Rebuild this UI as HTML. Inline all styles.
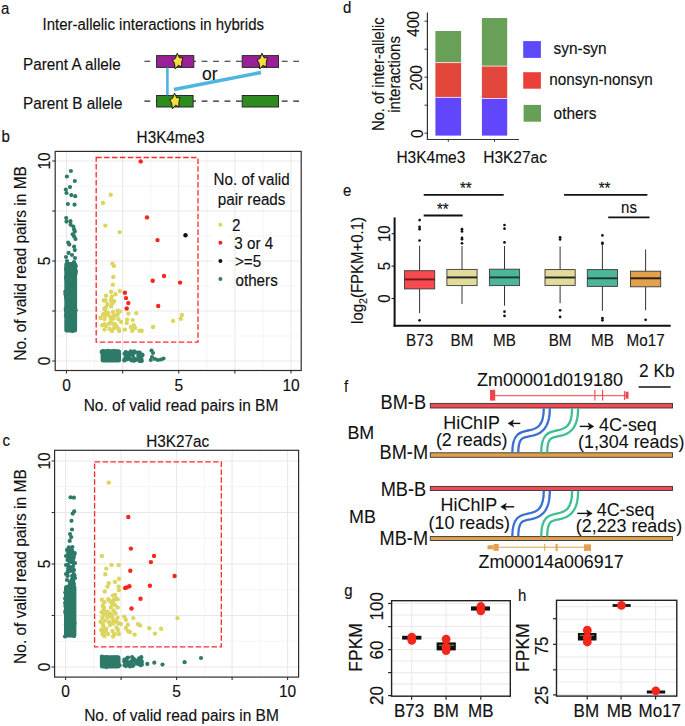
<!DOCTYPE html>
<html><head><meta charset="utf-8"><style>
html,body{margin:0;padding:0;background:#fff;overflow:hidden;}
svg{display:block;}
svg text{font-family:"Liberation Sans",sans-serif;}
</style></head><body>
<svg width="685" height="726" viewBox="0 0 685 726">
<rect x="0" y="0" width="685" height="726" fill="#fff"/>
<text transform="translate(1 13.5) scale(1 1.07)" font-size="15" text-anchor="start" fill="#111" stroke="#111" stroke-width="0.15" >a</text>
<text transform="translate(42.5 30.4) scale(1 1.07)" font-size="15" text-anchor="start" fill="#111" stroke="#111" stroke-width="0.15" >Inter-allelic interactions in hybrids</text>
<text transform="translate(23 69.9) scale(1 1.07)" font-size="15.3" text-anchor="start" fill="#111" stroke="#111" stroke-width="0.15" >Parent A allele</text>
<text transform="translate(23 108.9) scale(1 1.07)" font-size="15.3" text-anchor="start" fill="#111" stroke="#111" stroke-width="0.15" >Parent B allele</text>
<line x1="144.4" y1="61.3" x2="299.2" y2="61.3" stroke="#222" stroke-width="1.1" stroke-dasharray="5.8 5.65"/>
<line x1="144.4" y1="101.1" x2="299.2" y2="101.1" stroke="#222" stroke-width="1.1" stroke-dasharray="5.8 5.65"/>
<rect x="156.60" y="55.60" width="37.20" height="11.80" fill="#9b1f98" stroke="#2a2a2a" stroke-width="1" />
<rect x="242.20" y="55.60" width="36.30" height="11.80" fill="#9b1f98" stroke="#2a2a2a" stroke-width="1" />
<rect x="156.60" y="95.50" width="36.50" height="11.50" fill="#2f8a1f" stroke="#2a2a2a" stroke-width="1" />
<rect x="242.20" y="95.50" width="36.30" height="11.50" fill="#2f8a1f" stroke="#2a2a2a" stroke-width="1" />
<line x1="167.4" y1="67.6" x2="167.4" y2="95.3" stroke="#4db6e0" stroke-width="2.6" />
<line x1="174" y1="89.5" x2="261" y2="72.5" stroke="#4db6e0" stroke-width="3.6" />
<text transform="translate(202 79.5) scale(1 1.0)" font-size="17.5" text-anchor="start" fill="#111" stroke="#111" stroke-width="0.15" >or</text>
<polygon points="177.25,53.19 179.51,57.85 182.87,57.67 181.74,62.06 181.68,67.07 178.38,65.27 175.20,69.01 174.44,63.20 172.45,59.89 175.42,58.39" fill="#f3e03c" stroke="#1a1a1a" stroke-width="1" stroke-linejoin="miter"/>
<polygon points="261.85,53.19 264.11,57.85 267.47,57.67 266.34,62.06 266.28,67.07 262.98,65.27 259.80,69.01 259.04,63.20 257.05,59.89 260.02,58.39" fill="#f3e03c" stroke="#1a1a1a" stroke-width="1" stroke-linejoin="miter"/>
<polygon points="174.45,93.09 176.71,97.75 180.07,97.57 178.94,101.96 178.88,106.97 175.58,105.17 172.40,108.91 171.64,103.10 169.65,99.79 172.62,98.29" fill="#f3e03c" stroke="#1a1a1a" stroke-width="1" stroke-linejoin="miter"/>
<text transform="translate(1.5 142.1) scale(1 1.07)" font-size="15" text-anchor="start" fill="#111" stroke="#111" stroke-width="0.15" >b</text>
<line x1="66.5" y1="151.4" x2="66.5" y2="370.5" stroke="#e9e9e9" stroke-width="1.1" />
<line x1="55.2" y1="361.0" x2="301.2" y2="361.0" stroke="#e9e9e9" stroke-width="1.1" />
<line x1="94.5625" y1="151.4" x2="94.5625" y2="370.5" stroke="#efefef" stroke-width="0.6" />
<line x1="55.2" y1="336.0" x2="301.2" y2="336.0" stroke="#efefef" stroke-width="0.6" />
<line x1="122.625" y1="151.4" x2="122.625" y2="370.5" stroke="#e9e9e9" stroke-width="1.1" />
<line x1="55.2" y1="311.0" x2="301.2" y2="311.0" stroke="#e9e9e9" stroke-width="1.1" />
<line x1="150.6875" y1="151.4" x2="150.6875" y2="370.5" stroke="#efefef" stroke-width="0.6" />
<line x1="55.2" y1="286.0" x2="301.2" y2="286.0" stroke="#efefef" stroke-width="0.6" />
<line x1="178.75" y1="151.4" x2="178.75" y2="370.5" stroke="#e9e9e9" stroke-width="1.1" />
<line x1="55.2" y1="261.0" x2="301.2" y2="261.0" stroke="#e9e9e9" stroke-width="1.1" />
<line x1="206.8125" y1="151.4" x2="206.8125" y2="370.5" stroke="#efefef" stroke-width="0.6" />
<line x1="55.2" y1="236.0" x2="301.2" y2="236.0" stroke="#efefef" stroke-width="0.6" />
<line x1="234.875" y1="151.4" x2="234.875" y2="370.5" stroke="#e9e9e9" stroke-width="1.1" />
<line x1="55.2" y1="211.0" x2="301.2" y2="211.0" stroke="#e9e9e9" stroke-width="1.1" />
<line x1="262.9375" y1="151.4" x2="262.9375" y2="370.5" stroke="#efefef" stroke-width="0.6" />
<line x1="55.2" y1="186.0" x2="301.2" y2="186.0" stroke="#efefef" stroke-width="0.6" />
<line x1="291.0" y1="151.4" x2="291.0" y2="370.5" stroke="#e9e9e9" stroke-width="1.1" />
<line x1="55.2" y1="161.0" x2="301.2" y2="161.0" stroke="#e9e9e9" stroke-width="1.1" />
<rect x="55.20" y="151.40" width="246.00" height="219.10" fill="none" stroke="#2e2e2e" stroke-width="1.2" />
<line x1="66.5" y1="370.5" x2="66.5" y2="373.5" stroke="#333" stroke-width="1.1" />
<line x1="52.2" y1="361.0" x2="55.2" y2="361.0" stroke="#333" stroke-width="1.1" />
<line x1="122.625" y1="370.5" x2="122.625" y2="373.5" stroke="#333" stroke-width="1.1" />
<line x1="52.2" y1="311.0" x2="55.2" y2="311.0" stroke="#333" stroke-width="1.1" />
<line x1="178.75" y1="370.5" x2="178.75" y2="373.5" stroke="#333" stroke-width="1.1" />
<line x1="52.2" y1="261.0" x2="55.2" y2="261.0" stroke="#333" stroke-width="1.1" />
<line x1="234.875" y1="370.5" x2="234.875" y2="373.5" stroke="#333" stroke-width="1.1" />
<line x1="52.2" y1="211.0" x2="55.2" y2="211.0" stroke="#333" stroke-width="1.1" />
<line x1="291.0" y1="370.5" x2="291.0" y2="373.5" stroke="#333" stroke-width="1.1" />
<line x1="52.2" y1="161.0" x2="55.2" y2="161.0" stroke="#333" stroke-width="1.1" />
<text transform="translate(66.5 391) scale(1 1.07)" font-size="15.5" text-anchor="middle" fill="#111" stroke="#111" stroke-width="0.15" >0</text>
<text transform="translate(50.3 361) rotate(-90) scale(1 1.07)" font-size="15.5" text-anchor="middle" fill="#111" stroke="#111" stroke-width="0.15">0</text>
<text transform="translate(178.75 391) scale(1 1.07)" font-size="15.5" text-anchor="middle" fill="#111" stroke="#111" stroke-width="0.15" >5</text>
<text transform="translate(50.3 261) rotate(-90) scale(1 1.07)" font-size="15.5" text-anchor="middle" fill="#111" stroke="#111" stroke-width="0.15">5</text>
<text transform="translate(291.0 391) scale(1 1.07)" font-size="15.5" text-anchor="middle" fill="#111" stroke="#111" stroke-width="0.15" >10</text>
<text transform="translate(50.3 161) rotate(-90) scale(1 1.07)" font-size="15.5" text-anchor="middle" fill="#111" stroke="#111" stroke-width="0.15">10</text>
<text transform="translate(136.6 143.2) scale(1 1.07)" font-size="15.3" text-anchor="start" fill="#111" stroke="#111" stroke-width="0.15" >H3K4me3</text>
<text transform="translate(181 410.5) scale(1 1.07)" font-size="15.5" text-anchor="middle" fill="#111" stroke="#111" stroke-width="0.15" >No. of valid read pairs in BM</text>
<text transform="translate(26.3 263.4) rotate(-90) scale(1 1.07)" font-size="15.5" text-anchor="middle" fill="#111" stroke="#111" stroke-width="0.15">No. of valid read pairs in MB</text>
<circle cx="70.9" cy="171.0" r="2.1" fill="#2e7a68"/>
<circle cx="66.9" cy="176.5" r="2.1" fill="#2e7a68"/>
<circle cx="74.8" cy="181.0" r="2.1" fill="#2e7a68"/>
<circle cx="70.0" cy="187.1" r="2.1" fill="#2e7a68"/>
<circle cx="65.8" cy="189.6" r="2.1" fill="#2e7a68"/>
<circle cx="66.5" cy="193.0" r="2.1" fill="#2e7a68"/>
<circle cx="71.3" cy="195.1" r="2.1" fill="#2e7a68"/>
<circle cx="75.2" cy="196.2" r="2.1" fill="#2e7a68"/>
<circle cx="67.9" cy="204.0" r="2.1" fill="#2e7a68"/>
<circle cx="74.5" cy="204.7" r="2.1" fill="#2e7a68"/>
<circle cx="66.2" cy="218.0" r="2.1" fill="#2e7a68"/>
<circle cx="66.5" cy="221.6" r="2.1" fill="#2e7a68"/>
<circle cx="70.4" cy="221.2" r="2.1" fill="#2e7a68"/>
<circle cx="70.6" cy="224.7" r="2.1" fill="#2e7a68"/>
<circle cx="73.4" cy="226.7" r="2.1" fill="#2e7a68"/>
<circle cx="74.1" cy="229.5" r="2.1" fill="#2e7a68"/>
<circle cx="74.8" cy="231.6" r="2.1" fill="#2e7a68"/>
<circle cx="72.7" cy="234.3" r="2.1" fill="#2e7a68"/>
<circle cx="74.1" cy="236.4" r="2.1" fill="#2e7a68"/>
<circle cx="75.5" cy="239.1" r="2.1" fill="#2e7a68"/>
<circle cx="68.2" cy="242.6" r="2.1" fill="#2e7a68"/>
<circle cx="69.3" cy="244.6" r="2.1" fill="#2e7a68"/>
<circle cx="74.1" cy="246.7" r="2.1" fill="#2e7a68"/>
<circle cx="74.8" cy="250.1" r="2.1" fill="#2e7a68"/>
<circle cx="68.6" cy="252.9" r="2.1" fill="#2e7a68"/>
<circle cx="72.0" cy="255.0" r="2.1" fill="#2e7a68"/>
<circle cx="66.0" cy="257.0" r="2.1" fill="#2e7a68"/>
<circle cx="75.0" cy="258.0" r="2.1" fill="#2e7a68"/>
<circle cx="67.0" cy="261.0" r="2.1" fill="#2e7a68"/>
<circle cx="74.0" cy="262.0" r="2.1" fill="#2e7a68"/>
<rect x="64.30" y="262.00" width="12.80" height="70.50" fill="#2e7a68" stroke="none" stroke-width="0" rx="2.5"/>
<circle cx="68.8" cy="273.3" r="2.1" fill="#2e7a68"/>
<circle cx="72.3" cy="268.0" r="2.1" fill="#2e7a68"/>
<circle cx="71.1" cy="288.0" r="2.1" fill="#2e7a68"/>
<circle cx="65.9" cy="297.8" r="2.1" fill="#2e7a68"/>
<circle cx="65.7" cy="292.7" r="2.1" fill="#2e7a68"/>
<circle cx="66.1" cy="269.2" r="2.1" fill="#2e7a68"/>
<circle cx="69.9" cy="319.6" r="2.1" fill="#2e7a68"/>
<circle cx="66.6" cy="278.3" r="2.1" fill="#2e7a68"/>
<circle cx="72.1" cy="327.9" r="2.1" fill="#2e7a68"/>
<circle cx="71.5" cy="290.2" r="2.1" fill="#2e7a68"/>
<circle cx="75.8" cy="266.2" r="2.1" fill="#2e7a68"/>
<circle cx="74.6" cy="282.8" r="2.1" fill="#2e7a68"/>
<circle cx="66.9" cy="271.1" r="2.1" fill="#2e7a68"/>
<circle cx="68.6" cy="318.9" r="2.1" fill="#2e7a68"/>
<circle cx="67.3" cy="302.8" r="2.1" fill="#2e7a68"/>
<circle cx="72.2" cy="288.5" r="2.1" fill="#2e7a68"/>
<circle cx="71.2" cy="267.3" r="2.1" fill="#2e7a68"/>
<circle cx="65.9" cy="277.1" r="2.1" fill="#2e7a68"/>
<circle cx="72.6" cy="292.3" r="2.1" fill="#2e7a68"/>
<circle cx="68.7" cy="303.1" r="2.1" fill="#2e7a68"/>
<circle cx="70.2" cy="283.5" r="2.1" fill="#2e7a68"/>
<circle cx="73.9" cy="310.9" r="2.1" fill="#2e7a68"/>
<circle cx="67.9" cy="302.3" r="2.1" fill="#2e7a68"/>
<circle cx="71.0" cy="322.9" r="2.1" fill="#2e7a68"/>
<circle cx="73.2" cy="282.7" r="2.1" fill="#2e7a68"/>
<circle cx="75.9" cy="271.1" r="2.1" fill="#2e7a68"/>
<circle cx="69.8" cy="314.9" r="2.1" fill="#2e7a68"/>
<circle cx="66.9" cy="296.5" r="2.1" fill="#2e7a68"/>
<circle cx="65.7" cy="308.8" r="2.1" fill="#2e7a68"/>
<circle cx="73.6" cy="302.3" r="2.1" fill="#2e7a68"/>
<circle cx="74.8" cy="284.5" r="2.1" fill="#2e7a68"/>
<circle cx="72.8" cy="303.7" r="2.1" fill="#2e7a68"/>
<circle cx="71.6" cy="294.3" r="2.1" fill="#2e7a68"/>
<circle cx="74.4" cy="327.7" r="2.1" fill="#2e7a68"/>
<circle cx="70.4" cy="308.5" r="2.1" fill="#2e7a68"/>
<circle cx="66.0" cy="311.1" r="2.1" fill="#2e7a68"/>
<circle cx="72.3" cy="331.0" r="2.1" fill="#2e7a68"/>
<circle cx="74.2" cy="282.5" r="2.1" fill="#2e7a68"/>
<circle cx="69.5" cy="308.8" r="2.1" fill="#2e7a68"/>
<circle cx="65.5" cy="294.6" r="2.1" fill="#2e7a68"/>
<circle cx="67.1" cy="271.0" r="2.1" fill="#2e7a68"/>
<circle cx="65.9" cy="315.6" r="2.1" fill="#2e7a68"/>
<circle cx="66.7" cy="280.0" r="2.1" fill="#2e7a68"/>
<circle cx="69.5" cy="322.7" r="2.1" fill="#2e7a68"/>
<circle cx="66.2" cy="293.8" r="2.1" fill="#2e7a68"/>
<circle cx="71.2" cy="323.5" r="2.1" fill="#2e7a68"/>
<circle cx="74.1" cy="322.2" r="2.1" fill="#2e7a68"/>
<circle cx="68.3" cy="291.4" r="2.1" fill="#2e7a68"/>
<circle cx="69.2" cy="323.6" r="2.1" fill="#2e7a68"/>
<circle cx="75.6" cy="273.3" r="2.1" fill="#2e7a68"/>
<circle cx="67.2" cy="278.9" r="2.1" fill="#2e7a68"/>
<circle cx="67.8" cy="296.2" r="2.1" fill="#2e7a68"/>
<circle cx="71.7" cy="281.0" r="2.1" fill="#2e7a68"/>
<circle cx="65.3" cy="291.7" r="2.1" fill="#2e7a68"/>
<circle cx="69.3" cy="301.8" r="2.1" fill="#2e7a68"/>
<circle cx="75.6" cy="310.3" r="2.1" fill="#2e7a68"/>
<rect x="100.60" y="349.20" width="20.50" height="13.30" fill="#2e7a68" stroke="none" stroke-width="0" rx="2.5"/>
<circle cx="111.1" cy="357.2" r="2.1" fill="#2e7a68"/>
<circle cx="114.1" cy="350.8" r="2.1" fill="#2e7a68"/>
<circle cx="118.2" cy="359.0" r="2.1" fill="#2e7a68"/>
<circle cx="117.8" cy="359.2" r="2.1" fill="#2e7a68"/>
<circle cx="108.9" cy="354.7" r="2.1" fill="#2e7a68"/>
<circle cx="103.5" cy="357.4" r="2.1" fill="#2e7a68"/>
<circle cx="102.8" cy="351.0" r="2.1" fill="#2e7a68"/>
<circle cx="105.5" cy="352.0" r="2.1" fill="#2e7a68"/>
<circle cx="107.9" cy="350.8" r="2.1" fill="#2e7a68"/>
<circle cx="101.6" cy="351.9" r="2.1" fill="#2e7a68"/>
<circle cx="125.9" cy="354.6" r="2.1" fill="#2e7a68"/>
<circle cx="124.5" cy="359.7" r="2.1" fill="#2e7a68"/>
<circle cx="135.7" cy="352.5" r="2.1" fill="#2e7a68"/>
<circle cx="128.8" cy="354.5" r="2.1" fill="#2e7a68"/>
<circle cx="130.9" cy="352.2" r="2.1" fill="#2e7a68"/>
<circle cx="140.1" cy="360.9" r="2.1" fill="#2e7a68"/>
<circle cx="132.9" cy="355.8" r="2.1" fill="#2e7a68"/>
<circle cx="125.6" cy="352.0" r="2.1" fill="#2e7a68"/>
<circle cx="130.5" cy="353.6" r="2.1" fill="#2e7a68"/>
<circle cx="139.7" cy="352.6" r="2.1" fill="#2e7a68"/>
<circle cx="124.4" cy="360.5" r="2.1" fill="#2e7a68"/>
<circle cx="134.0" cy="352.5" r="2.1" fill="#2e7a68"/>
<circle cx="134.3" cy="351.3" r="2.1" fill="#2e7a68"/>
<circle cx="134.0" cy="360.8" r="2.1" fill="#2e7a68"/>
<circle cx="140.4" cy="358.0" r="2.1" fill="#2e7a68"/>
<circle cx="129.0" cy="354.7" r="2.1" fill="#2e7a68"/>
<circle cx="127.2" cy="358.7" r="2.1" fill="#2e7a68"/>
<circle cx="134.1" cy="358.8" r="2.1" fill="#2e7a68"/>
<circle cx="130.3" cy="353.2" r="2.1" fill="#2e7a68"/>
<circle cx="139.4" cy="360.8" r="2.1" fill="#2e7a68"/>
<circle cx="140.2" cy="359.1" r="2.1" fill="#2e7a68"/>
<circle cx="139.5" cy="358.4" r="2.1" fill="#2e7a68"/>
<circle cx="128.3" cy="356.2" r="2.1" fill="#2e7a68"/>
<circle cx="130.8" cy="351.3" r="2.1" fill="#2e7a68"/>
<circle cx="124.5" cy="353.8" r="2.1" fill="#2e7a68"/>
<circle cx="128.9" cy="357.9" r="2.1" fill="#2e7a68"/>
<circle cx="142.2" cy="355.5" r="2.1" fill="#2e7a68"/>
<circle cx="141.8" cy="360.9" r="2.1" fill="#2e7a68"/>
<circle cx="142.1" cy="354.6" r="2.1" fill="#2e7a68"/>
<circle cx="128.2" cy="353.3" r="2.1" fill="#2e7a68"/>
<circle cx="127.7" cy="353.0" r="2.1" fill="#2e7a68"/>
<circle cx="135.9" cy="360.0" r="2.1" fill="#2e7a68"/>
<circle cx="140.0" cy="355.8" r="2.1" fill="#2e7a68"/>
<circle cx="136.4" cy="359.0" r="2.1" fill="#2e7a68"/>
<circle cx="125.6" cy="357.6" r="2.1" fill="#2e7a68"/>
<circle cx="141.3" cy="358.8" r="2.1" fill="#2e7a68"/>
<circle cx="138.3" cy="355.8" r="2.1" fill="#2e7a68"/>
<circle cx="127.4" cy="358.9" r="2.1" fill="#2e7a68"/>
<circle cx="130.3" cy="359.0" r="2.1" fill="#2e7a68"/>
<circle cx="142.5" cy="355.0" r="2.1" fill="#2e7a68"/>
<circle cx="131.6" cy="360.5" r="2.1" fill="#2e7a68"/>
<circle cx="137.8" cy="352.7" r="2.1" fill="#2e7a68"/>
<circle cx="126.4" cy="352.5" r="2.1" fill="#2e7a68"/>
<circle cx="141.2" cy="359.1" r="2.1" fill="#2e7a68"/>
<circle cx="126.8" cy="359.3" r="2.1" fill="#2e7a68"/>
<circle cx="151.5" cy="350.5" r="2.1" fill="#2e7a68"/>
<circle cx="153.0" cy="353.0" r="2.1" fill="#2e7a68"/>
<circle cx="152.0" cy="357.0" r="2.1" fill="#2e7a68"/>
<circle cx="155.0" cy="359.0" r="2.1" fill="#2e7a68"/>
<circle cx="158.0" cy="360.0" r="2.1" fill="#2e7a68"/>
<circle cx="161.0" cy="359.5" r="2.1" fill="#2e7a68"/>
<circle cx="163.5" cy="358.5" r="2.1" fill="#2e7a68"/>
<circle cx="150.8" cy="360.0" r="2.1" fill="#2e7a68"/>
<rect x="96.20" y="157.50" width="101.80" height="184.70" fill="none" stroke="#ff2a2a" stroke-width="1.3" stroke-dasharray="5.5 2.4"/>
<circle cx="110.7" cy="194.8" r="2.2" fill="#dcd660"/>
<circle cx="103.0" cy="203.0" r="2.2" fill="#dcd660"/>
<circle cx="105.4" cy="225.6" r="2.2" fill="#dcd660"/>
<circle cx="119.6" cy="232.1" r="2.2" fill="#dcd660"/>
<circle cx="112.4" cy="263.6" r="2.2" fill="#dcd660"/>
<circle cx="113.9" cy="265.9" r="2.2" fill="#dcd660"/>
<circle cx="113.3" cy="277.0" r="2.2" fill="#dcd660"/>
<circle cx="112.8" cy="284.8" r="2.2" fill="#dcd660"/>
<circle cx="119.8" cy="291.0" r="2.2" fill="#dcd660"/>
<circle cx="111.1" cy="291.7" r="2.2" fill="#dcd660"/>
<circle cx="115.4" cy="294.3" r="2.2" fill="#dcd660"/>
<circle cx="106.0" cy="295.8" r="2.2" fill="#dcd660"/>
<circle cx="111.8" cy="296.8" r="2.2" fill="#dcd660"/>
<circle cx="103.8" cy="300.4" r="2.2" fill="#dcd660"/>
<circle cx="111.1" cy="299.7" r="2.2" fill="#dcd660"/>
<circle cx="112.5" cy="303.1" r="2.2" fill="#dcd660"/>
<circle cx="107.4" cy="304.1" r="2.2" fill="#dcd660"/>
<circle cx="111.1" cy="306.3" r="2.2" fill="#dcd660"/>
<circle cx="104.5" cy="308.5" r="2.2" fill="#dcd660"/>
<circle cx="117.6" cy="310.7" r="2.2" fill="#dcd660"/>
<circle cx="119.8" cy="311.4" r="2.2" fill="#dcd660"/>
<circle cx="108.1" cy="313.3" r="2.2" fill="#dcd660"/>
<circle cx="128.3" cy="313.6" r="2.2" fill="#dcd660"/>
<circle cx="136.3" cy="313.1" r="2.2" fill="#dcd660"/>
<circle cx="114.0" cy="315.8" r="2.2" fill="#dcd660"/>
<circle cx="116.9" cy="315.0" r="2.2" fill="#dcd660"/>
<circle cx="104.5" cy="319.1" r="2.2" fill="#dcd660"/>
<circle cx="111.1" cy="318.7" r="2.2" fill="#dcd660"/>
<circle cx="118.4" cy="319.1" r="2.2" fill="#dcd660"/>
<circle cx="127.1" cy="319.7" r="2.2" fill="#dcd660"/>
<circle cx="132.7" cy="320.1" r="2.2" fill="#dcd660"/>
<circle cx="110.8" cy="322.3" r="2.2" fill="#dcd660"/>
<circle cx="102.3" cy="325.3" r="2.2" fill="#dcd660"/>
<circle cx="108.9" cy="323.8" r="2.2" fill="#dcd660"/>
<circle cx="115.4" cy="324.5" r="2.2" fill="#dcd660"/>
<circle cx="126.8" cy="323.1" r="2.2" fill="#dcd660"/>
<circle cx="133.7" cy="325.3" r="2.2" fill="#dcd660"/>
<circle cx="104.5" cy="329.6" r="2.2" fill="#dcd660"/>
<circle cx="109.6" cy="328.9" r="2.2" fill="#dcd660"/>
<circle cx="114.0" cy="328.2" r="2.2" fill="#dcd660"/>
<circle cx="119.1" cy="330.9" r="2.2" fill="#dcd660"/>
<circle cx="124.9" cy="329.6" r="2.2" fill="#dcd660"/>
<circle cx="130.8" cy="327.0" r="2.2" fill="#dcd660"/>
<circle cx="135.1" cy="327.9" r="2.2" fill="#dcd660"/>
<circle cx="132.2" cy="330.8" r="2.2" fill="#dcd660"/>
<circle cx="139.5" cy="330.8" r="2.2" fill="#dcd660"/>
<circle cx="141.7" cy="330.8" r="2.2" fill="#dcd660"/>
<circle cx="153.1" cy="327.0" r="2.2" fill="#dcd660"/>
<circle cx="173.1" cy="320.9" r="2.2" fill="#dcd660"/>
<circle cx="180.8" cy="318.7" r="2.2" fill="#dcd660"/>
<circle cx="181.9" cy="315.0" r="2.2" fill="#dcd660"/>
<circle cx="106.0" cy="312.0" r="2.2" fill="#dcd660"/>
<circle cx="113.0" cy="312.0" r="2.2" fill="#dcd660"/>
<circle cx="100.5" cy="318.0" r="2.2" fill="#dcd660"/>
<circle cx="106.0" cy="326.0" r="2.2" fill="#dcd660"/>
<circle cx="112.0" cy="331.0" r="2.2" fill="#dcd660"/>
<circle cx="117.0" cy="327.0" r="2.2" fill="#dcd660"/>
<circle cx="121.0" cy="322.0" r="2.2" fill="#dcd660"/>
<circle cx="103.0" cy="315.0" r="2.2" fill="#dcd660"/>
<circle cx="110.2" cy="316.8" r="2.2" fill="#dcd660"/>
<circle cx="117.8" cy="314.0" r="2.2" fill="#dcd660"/>
<circle cx="111.1" cy="317.6" r="2.2" fill="#dcd660"/>
<circle cx="106.0" cy="315.4" r="2.2" fill="#dcd660"/>
<circle cx="113.1" cy="323.8" r="2.2" fill="#dcd660"/>
<circle cx="104.5" cy="309.1" r="2.2" fill="#dcd660"/>
<circle cx="104.5" cy="324.3" r="2.2" fill="#dcd660"/>
<circle cx="114.1" cy="301.3" r="2.2" fill="#dcd660"/>
<circle cx="118.7" cy="328.9" r="2.2" fill="#dcd660"/>
<circle cx="113.5" cy="318.5" r="2.2" fill="#dcd660"/>
<circle cx="105.5" cy="300.5" r="2.2" fill="#dcd660"/>
<circle cx="111.5" cy="301.8" r="2.2" fill="#dcd660"/>
<circle cx="106.0" cy="307.3" r="2.2" fill="#dcd660"/>
<circle cx="103.5" cy="313.9" r="2.2" fill="#dcd660"/>
<circle cx="140.7" cy="161.4" r="2.2" fill="#f5261c"/>
<circle cx="147.0" cy="217.4" r="2.2" fill="#f5261c"/>
<circle cx="157.5" cy="240.1" r="2.2" fill="#f5261c"/>
<circle cx="164.0" cy="276.0" r="2.2" fill="#f5261c"/>
<circle cx="152.7" cy="280.7" r="2.2" fill="#f5261c"/>
<circle cx="180.1" cy="282.6" r="2.2" fill="#f5261c"/>
<circle cx="124.9" cy="292.8" r="2.2" fill="#f5261c"/>
<circle cx="126.0" cy="298.1" r="2.2" fill="#f5261c"/>
<circle cx="128.3" cy="303.1" r="2.2" fill="#f5261c"/>
<circle cx="126.7" cy="308.5" r="2.2" fill="#f5261c"/>
<circle cx="158.2" cy="306.0" r="2.2" fill="#f5261c"/>
<circle cx="185.5" cy="235.2" r="2.2" fill="#111"/>
<text transform="translate(251.6 185) scale(1 1.07)" font-size="15.2" text-anchor="middle" fill="#111" stroke="#111" stroke-width="0.15" >No. of valid</text>
<text transform="translate(251.6 204.5) scale(1 1.07)" font-size="15.2" text-anchor="middle" fill="#111" stroke="#111" stroke-width="0.15" >pair reads</text>
<rect x="213.00" y="215.70" width="15.00" height="18.00" fill="#fff" stroke="none" stroke-width="1" />
<circle cx="220.4" cy="224.7" r="2" fill="#dcd660"/>
<text transform="translate(231.9 231.2) scale(1 1.07)" font-size="15.2" text-anchor="start" fill="#111" stroke="#111" stroke-width="0.15" >2</text>
<rect x="213.00" y="233.80" width="15.00" height="18.00" fill="#fff" stroke="none" stroke-width="1" />
<circle cx="220.4" cy="242.8" r="2" fill="#f5261c"/>
<text transform="translate(234.3 249.3) scale(1 1.07)" font-size="15.2" text-anchor="start" fill="#111" stroke="#111" stroke-width="0.15" >3 or 4</text>
<rect x="213.00" y="251.90" width="15.00" height="18.00" fill="#fff" stroke="none" stroke-width="1" />
<circle cx="220.4" cy="260.9" r="2" fill="#111"/>
<text transform="translate(234.9 267.4) scale(1 1.07)" font-size="15.2" text-anchor="start" fill="#111" stroke="#111" stroke-width="0.15" >&gt;=5</text>
<rect x="213.00" y="270.10" width="15.00" height="18.00" fill="#fff" stroke="none" stroke-width="1" />
<circle cx="220.4" cy="279.1" r="2" fill="#2e7a68"/>
<text transform="translate(235.5 285.6) scale(1 1.07)" font-size="15.2" text-anchor="start" fill="#111" stroke="#111" stroke-width="0.15" >others</text>
<text transform="translate(2.5 446.3) scale(1 1.07)" font-size="15" text-anchor="start" fill="#111" stroke="#111" stroke-width="0.15" >c</text>
<line x1="65.6" y1="450.3" x2="65.6" y2="677.1" stroke="#e9e9e9" stroke-width="1.1" />
<line x1="54.6" y1="667.0" x2="298.6" y2="667.0" stroke="#e9e9e9" stroke-width="1.1" />
<line x1="93.35" y1="450.3" x2="93.35" y2="677.1" stroke="#efefef" stroke-width="0.6" />
<line x1="54.6" y1="641.25" x2="298.6" y2="641.25" stroke="#efefef" stroke-width="0.6" />
<line x1="121.1" y1="450.3" x2="121.1" y2="677.1" stroke="#e9e9e9" stroke-width="1.1" />
<line x1="54.6" y1="615.5" x2="298.6" y2="615.5" stroke="#e9e9e9" stroke-width="1.1" />
<line x1="148.85" y1="450.3" x2="148.85" y2="677.1" stroke="#efefef" stroke-width="0.6" />
<line x1="54.6" y1="589.75" x2="298.6" y2="589.75" stroke="#efefef" stroke-width="0.6" />
<line x1="176.6" y1="450.3" x2="176.6" y2="677.1" stroke="#e9e9e9" stroke-width="1.1" />
<line x1="54.6" y1="564.0" x2="298.6" y2="564.0" stroke="#e9e9e9" stroke-width="1.1" />
<line x1="204.35" y1="450.3" x2="204.35" y2="677.1" stroke="#efefef" stroke-width="0.6" />
<line x1="54.6" y1="538.25" x2="298.6" y2="538.25" stroke="#efefef" stroke-width="0.6" />
<line x1="232.1" y1="450.3" x2="232.1" y2="677.1" stroke="#e9e9e9" stroke-width="1.1" />
<line x1="54.6" y1="512.5" x2="298.6" y2="512.5" stroke="#e9e9e9" stroke-width="1.1" />
<line x1="259.85" y1="450.3" x2="259.85" y2="677.1" stroke="#efefef" stroke-width="0.6" />
<line x1="54.6" y1="486.75" x2="298.6" y2="486.75" stroke="#efefef" stroke-width="0.6" />
<line x1="287.6" y1="450.3" x2="287.6" y2="677.1" stroke="#e9e9e9" stroke-width="1.1" />
<line x1="54.6" y1="461.0" x2="298.6" y2="461.0" stroke="#e9e9e9" stroke-width="1.1" />
<rect x="54.60" y="450.30" width="244.00" height="226.80" fill="none" stroke="#2e2e2e" stroke-width="1.2" />
<line x1="65.6" y1="677.1" x2="65.6" y2="680.1" stroke="#333" stroke-width="1.1" />
<line x1="51.6" y1="667.0" x2="54.6" y2="667.0" stroke="#333" stroke-width="1.1" />
<line x1="121.1" y1="677.1" x2="121.1" y2="680.1" stroke="#333" stroke-width="1.1" />
<line x1="51.6" y1="615.5" x2="54.6" y2="615.5" stroke="#333" stroke-width="1.1" />
<line x1="176.6" y1="677.1" x2="176.6" y2="680.1" stroke="#333" stroke-width="1.1" />
<line x1="51.6" y1="564.0" x2="54.6" y2="564.0" stroke="#333" stroke-width="1.1" />
<line x1="232.1" y1="677.1" x2="232.1" y2="680.1" stroke="#333" stroke-width="1.1" />
<line x1="51.6" y1="512.5" x2="54.6" y2="512.5" stroke="#333" stroke-width="1.1" />
<line x1="287.6" y1="677.1" x2="287.6" y2="680.1" stroke="#333" stroke-width="1.1" />
<line x1="51.6" y1="461.0" x2="54.6" y2="461.0" stroke="#333" stroke-width="1.1" />
<text transform="translate(65.6 697) scale(1 1.07)" font-size="15.5" text-anchor="middle" fill="#111" stroke="#111" stroke-width="0.15" >0</text>
<text transform="translate(50.3 667.0) rotate(-90) scale(1 1.07)" font-size="15.5" text-anchor="middle" fill="#111" stroke="#111" stroke-width="0.15">0</text>
<text transform="translate(176.6 697) scale(1 1.07)" font-size="15.5" text-anchor="middle" fill="#111" stroke="#111" stroke-width="0.15" >5</text>
<text transform="translate(50.3 564.0) rotate(-90) scale(1 1.07)" font-size="15.5" text-anchor="middle" fill="#111" stroke="#111" stroke-width="0.15">5</text>
<text transform="translate(287.6 697) scale(1 1.07)" font-size="15.5" text-anchor="middle" fill="#111" stroke="#111" stroke-width="0.15" >10</text>
<text transform="translate(50.3 461.0) rotate(-90) scale(1 1.07)" font-size="15.5" text-anchor="middle" fill="#111" stroke="#111" stroke-width="0.15">10</text>
<text transform="translate(146.3 447) scale(1 1.07)" font-size="15.3" text-anchor="start" fill="#111" stroke="#111" stroke-width="0.15" >H3K27ac</text>
<text transform="translate(181.5 721) scale(1 1.07)" font-size="15.5" text-anchor="middle" fill="#111" stroke="#111" stroke-width="0.15" >No. of valid read pairs in BM</text>
<text transform="translate(26.3 566.6) rotate(-90) scale(1 1.07)" font-size="15.5" text-anchor="middle" fill="#111" stroke="#111" stroke-width="0.15">No. of valid read pairs in MB</text>
<circle cx="70.5" cy="497.3" r="2.1" fill="#2e7a68"/>
<circle cx="73.9" cy="497.7" r="2.1" fill="#2e7a68"/>
<circle cx="74.2" cy="511.4" r="2.1" fill="#2e7a68"/>
<circle cx="72.7" cy="513.6" r="2.1" fill="#2e7a68"/>
<circle cx="71.5" cy="520.8" r="2.1" fill="#2e7a68"/>
<circle cx="72.0" cy="529.5" r="2.1" fill="#2e7a68"/>
<circle cx="70.0" cy="534.1" r="2.1" fill="#2e7a68"/>
<circle cx="71.2" cy="537.1" r="2.1" fill="#2e7a68"/>
<circle cx="69.7" cy="540.9" r="2.1" fill="#2e7a68"/>
<circle cx="68.9" cy="547.3" r="2.1" fill="#2e7a68"/>
<circle cx="72.4" cy="547.0" r="2.1" fill="#2e7a68"/>
<circle cx="67.0" cy="550.0" r="2.1" fill="#2e7a68"/>
<circle cx="71.0" cy="552.0" r="2.1" fill="#2e7a68"/>
<circle cx="74.0" cy="554.0" r="2.1" fill="#2e7a68"/>
<circle cx="66.0" cy="556.0" r="2.1" fill="#2e7a68"/>
<circle cx="69.0" cy="558.0" r="2.1" fill="#2e7a68"/>
<circle cx="73.0" cy="560.0" r="2.1" fill="#2e7a68"/>
<circle cx="75.0" cy="563.0" r="2.1" fill="#2e7a68"/>
<circle cx="66.0" cy="565.0" r="2.1" fill="#2e7a68"/>
<circle cx="70.0" cy="567.0" r="2.1" fill="#2e7a68"/>
<circle cx="68.0" cy="571.0" r="2.1" fill="#2e7a68"/>
<circle cx="74.0" cy="570.0" r="2.1" fill="#2e7a68"/>
<circle cx="66.0" cy="574.0" r="2.1" fill="#2e7a68"/>
<circle cx="72.0" cy="576.0" r="2.1" fill="#2e7a68"/>
<circle cx="75.0" cy="578.0" r="2.1" fill="#2e7a68"/>
<circle cx="67.0" cy="580.0" r="2.1" fill="#2e7a68"/>
<circle cx="70.0" cy="582.0" r="2.1" fill="#2e7a68"/>
<circle cx="74.0" cy="584.0" r="2.1" fill="#2e7a68"/>
<circle cx="72.3" cy="557.8" r="2.1" fill="#2e7a68"/>
<circle cx="73.7" cy="574.0" r="2.1" fill="#2e7a68"/>
<circle cx="68.5" cy="555.1" r="2.1" fill="#2e7a68"/>
<circle cx="68.4" cy="553.6" r="2.1" fill="#2e7a68"/>
<circle cx="67.6" cy="575.9" r="2.1" fill="#2e7a68"/>
<circle cx="68.3" cy="568.2" r="2.1" fill="#2e7a68"/>
<circle cx="70.2" cy="559.2" r="2.1" fill="#2e7a68"/>
<circle cx="71.7" cy="579.8" r="2.1" fill="#2e7a68"/>
<circle cx="68.8" cy="548.5" r="2.1" fill="#2e7a68"/>
<circle cx="73.9" cy="553.6" r="2.1" fill="#2e7a68"/>
<circle cx="73.4" cy="578.8" r="2.1" fill="#2e7a68"/>
<circle cx="72.8" cy="579.4" r="2.1" fill="#2e7a68"/>
<circle cx="73.2" cy="584.1" r="2.1" fill="#2e7a68"/>
<circle cx="73.7" cy="557.8" r="2.1" fill="#2e7a68"/>
<circle cx="72.9" cy="566.5" r="2.1" fill="#2e7a68"/>
<circle cx="70.2" cy="569.4" r="2.1" fill="#2e7a68"/>
<circle cx="70.2" cy="561.8" r="2.1" fill="#2e7a68"/>
<circle cx="67.5" cy="559.9" r="2.1" fill="#2e7a68"/>
<circle cx="73.3" cy="579.1" r="2.1" fill="#2e7a68"/>
<circle cx="72.4" cy="585.5" r="2.1" fill="#2e7a68"/>
<circle cx="72.9" cy="569.1" r="2.1" fill="#2e7a68"/>
<circle cx="72.3" cy="553.1" r="2.1" fill="#2e7a68"/>
<circle cx="68.0" cy="564.8" r="2.1" fill="#2e7a68"/>
<circle cx="70.9" cy="555.7" r="2.1" fill="#2e7a68"/>
<circle cx="70.4" cy="557.6" r="2.1" fill="#2e7a68"/>
<circle cx="69.9" cy="571.0" r="2.1" fill="#2e7a68"/>
<circle cx="70.7" cy="553.0" r="2.1" fill="#2e7a68"/>
<circle cx="68.5" cy="556.9" r="2.1" fill="#2e7a68"/>
<circle cx="69.6" cy="555.4" r="2.1" fill="#2e7a68"/>
<circle cx="72.0" cy="550.8" r="2.1" fill="#2e7a68"/>
<circle cx="69.8" cy="584.2" r="2.1" fill="#2e7a68"/>
<circle cx="74.4" cy="575.3" r="2.1" fill="#2e7a68"/>
<circle cx="67.7" cy="549.6" r="2.1" fill="#2e7a68"/>
<circle cx="73.6" cy="578.6" r="2.1" fill="#2e7a68"/>
<circle cx="67.9" cy="572.3" r="2.1" fill="#2e7a68"/>
<circle cx="73.9" cy="563.7" r="2.1" fill="#2e7a68"/>
<circle cx="73.3" cy="581.7" r="2.1" fill="#2e7a68"/>
<circle cx="73.8" cy="555.7" r="2.1" fill="#2e7a68"/>
<circle cx="72.6" cy="562.2" r="2.1" fill="#2e7a68"/>
<circle cx="74.8" cy="553.2" r="2.1" fill="#2e7a68"/>
<circle cx="72.6" cy="570.9" r="2.1" fill="#2e7a68"/>
<circle cx="71.7" cy="556.0" r="2.1" fill="#2e7a68"/>
<circle cx="71.5" cy="570.1" r="2.1" fill="#2e7a68"/>
<circle cx="72.7" cy="561.7" r="2.1" fill="#2e7a68"/>
<circle cx="69.0" cy="561.0" r="2.1" fill="#2e7a68"/>
<circle cx="72.3" cy="554.3" r="2.1" fill="#2e7a68"/>
<circle cx="68.4" cy="552.3" r="2.1" fill="#2e7a68"/>
<circle cx="72.0" cy="550.6" r="2.1" fill="#2e7a68"/>
<circle cx="71.1" cy="569.1" r="2.1" fill="#2e7a68"/>
<circle cx="70.2" cy="549.5" r="2.1" fill="#2e7a68"/>
<rect x="64.00" y="585.00" width="12.40" height="52.60" fill="#2e7a68" stroke="none" stroke-width="0" rx="2.5"/>
<circle cx="68.6" cy="590.7" r="2.1" fill="#2e7a68"/>
<circle cx="65.0" cy="636.5" r="2.1" fill="#2e7a68"/>
<circle cx="66.3" cy="601.3" r="2.1" fill="#2e7a68"/>
<circle cx="67.8" cy="616.2" r="2.1" fill="#2e7a68"/>
<circle cx="65.8" cy="609.8" r="2.1" fill="#2e7a68"/>
<circle cx="68.8" cy="628.2" r="2.1" fill="#2e7a68"/>
<circle cx="65.1" cy="602.9" r="2.1" fill="#2e7a68"/>
<circle cx="70.2" cy="635.1" r="2.1" fill="#2e7a68"/>
<circle cx="70.4" cy="610.0" r="2.1" fill="#2e7a68"/>
<circle cx="72.0" cy="601.0" r="2.1" fill="#2e7a68"/>
<circle cx="65.3" cy="611.4" r="2.1" fill="#2e7a68"/>
<circle cx="74.5" cy="623.4" r="2.1" fill="#2e7a68"/>
<circle cx="67.7" cy="620.6" r="2.1" fill="#2e7a68"/>
<circle cx="73.8" cy="599.1" r="2.1" fill="#2e7a68"/>
<circle cx="71.1" cy="604.0" r="2.1" fill="#2e7a68"/>
<circle cx="67.5" cy="600.5" r="2.1" fill="#2e7a68"/>
<circle cx="67.1" cy="603.8" r="2.1" fill="#2e7a68"/>
<circle cx="65.4" cy="606.1" r="2.1" fill="#2e7a68"/>
<circle cx="65.9" cy="624.4" r="2.1" fill="#2e7a68"/>
<circle cx="71.2" cy="586.2" r="2.1" fill="#2e7a68"/>
<circle cx="73.0" cy="595.6" r="2.1" fill="#2e7a68"/>
<circle cx="70.0" cy="614.1" r="2.1" fill="#2e7a68"/>
<circle cx="68.5" cy="600.6" r="2.1" fill="#2e7a68"/>
<circle cx="69.5" cy="592.9" r="2.1" fill="#2e7a68"/>
<circle cx="74.0" cy="591.7" r="2.1" fill="#2e7a68"/>
<circle cx="73.6" cy="597.0" r="2.1" fill="#2e7a68"/>
<circle cx="68.2" cy="605.7" r="2.1" fill="#2e7a68"/>
<circle cx="65.3" cy="592.5" r="2.1" fill="#2e7a68"/>
<circle cx="68.8" cy="608.4" r="2.1" fill="#2e7a68"/>
<circle cx="74.1" cy="636.1" r="2.1" fill="#2e7a68"/>
<circle cx="65.5" cy="613.1" r="2.1" fill="#2e7a68"/>
<circle cx="66.3" cy="626.7" r="2.1" fill="#2e7a68"/>
<circle cx="68.4" cy="631.2" r="2.1" fill="#2e7a68"/>
<circle cx="70.7" cy="592.4" r="2.1" fill="#2e7a68"/>
<circle cx="65.1" cy="598.6" r="2.1" fill="#2e7a68"/>
<circle cx="74.0" cy="593.6" r="2.1" fill="#2e7a68"/>
<circle cx="70.0" cy="604.8" r="2.1" fill="#2e7a68"/>
<circle cx="68.6" cy="626.6" r="2.1" fill="#2e7a68"/>
<circle cx="67.2" cy="622.3" r="2.1" fill="#2e7a68"/>
<circle cx="71.9" cy="633.3" r="2.1" fill="#2e7a68"/>
<circle cx="70.4" cy="632.6" r="2.1" fill="#2e7a68"/>
<circle cx="69.6" cy="615.0" r="2.1" fill="#2e7a68"/>
<rect x="99.90" y="655.20" width="20.60" height="13.30" fill="#2e7a68" stroke="none" stroke-width="0" rx="2.5"/>
<circle cx="112.4" cy="665.7" r="2.1" fill="#2e7a68"/>
<circle cx="117.6" cy="657.5" r="2.1" fill="#2e7a68"/>
<circle cx="103.5" cy="662.2" r="2.1" fill="#2e7a68"/>
<circle cx="116.0" cy="662.2" r="2.1" fill="#2e7a68"/>
<circle cx="106.5" cy="667.1" r="2.1" fill="#2e7a68"/>
<circle cx="106.4" cy="657.2" r="2.1" fill="#2e7a68"/>
<circle cx="101.9" cy="656.5" r="2.1" fill="#2e7a68"/>
<circle cx="114.4" cy="657.4" r="2.1" fill="#2e7a68"/>
<circle cx="114.2" cy="666.0" r="2.1" fill="#2e7a68"/>
<circle cx="119.5" cy="665.3" r="2.1" fill="#2e7a68"/>
<circle cx="131.6" cy="663.2" r="2.1" fill="#2e7a68"/>
<circle cx="139.0" cy="664.2" r="2.1" fill="#2e7a68"/>
<circle cx="129.2" cy="664.6" r="2.1" fill="#2e7a68"/>
<circle cx="126.0" cy="660.1" r="2.1" fill="#2e7a68"/>
<circle cx="141.9" cy="661.7" r="2.1" fill="#2e7a68"/>
<circle cx="128.8" cy="664.8" r="2.1" fill="#2e7a68"/>
<circle cx="132.1" cy="657.0" r="2.1" fill="#2e7a68"/>
<circle cx="124.5" cy="659.6" r="2.1" fill="#2e7a68"/>
<circle cx="130.0" cy="666.4" r="2.1" fill="#2e7a68"/>
<circle cx="128.5" cy="665.5" r="2.1" fill="#2e7a68"/>
<circle cx="139.4" cy="661.2" r="2.1" fill="#2e7a68"/>
<circle cx="141.9" cy="664.6" r="2.1" fill="#2e7a68"/>
<circle cx="132.7" cy="659.6" r="2.1" fill="#2e7a68"/>
<circle cx="132.3" cy="666.0" r="2.1" fill="#2e7a68"/>
<circle cx="133.7" cy="658.9" r="2.1" fill="#2e7a68"/>
<circle cx="130.8" cy="661.8" r="2.1" fill="#2e7a68"/>
<circle cx="127.4" cy="662.7" r="2.1" fill="#2e7a68"/>
<circle cx="124.6" cy="665.2" r="2.1" fill="#2e7a68"/>
<circle cx="127.2" cy="658.0" r="2.1" fill="#2e7a68"/>
<circle cx="134.6" cy="660.1" r="2.1" fill="#2e7a68"/>
<circle cx="139.9" cy="662.0" r="2.1" fill="#2e7a68"/>
<circle cx="133.4" cy="665.3" r="2.1" fill="#2e7a68"/>
<circle cx="127.9" cy="664.5" r="2.1" fill="#2e7a68"/>
<circle cx="135.7" cy="661.3" r="2.1" fill="#2e7a68"/>
<circle cx="141.3" cy="657.2" r="2.1" fill="#2e7a68"/>
<circle cx="139.5" cy="658.4" r="2.1" fill="#2e7a68"/>
<circle cx="139.1" cy="658.5" r="2.1" fill="#2e7a68"/>
<circle cx="125.0" cy="662.0" r="2.1" fill="#2e7a68"/>
<circle cx="140.7" cy="659.6" r="2.1" fill="#2e7a68"/>
<circle cx="132.8" cy="663.1" r="2.1" fill="#2e7a68"/>
<circle cx="128.4" cy="662.3" r="2.1" fill="#2e7a68"/>
<circle cx="124.2" cy="661.5" r="2.1" fill="#2e7a68"/>
<circle cx="137.7" cy="660.4" r="2.1" fill="#2e7a68"/>
<circle cx="128.0" cy="657.5" r="2.1" fill="#2e7a68"/>
<circle cx="136.6" cy="661.3" r="2.1" fill="#2e7a68"/>
<circle cx="140.5" cy="664.4" r="2.1" fill="#2e7a68"/>
<circle cx="125.8" cy="666.1" r="2.1" fill="#2e7a68"/>
<circle cx="140.8" cy="665.2" r="2.1" fill="#2e7a68"/>
<circle cx="139.0" cy="663.8" r="2.1" fill="#2e7a68"/>
<circle cx="137.0" cy="663.7" r="2.1" fill="#2e7a68"/>
<circle cx="147.3" cy="663.9" r="2.1" fill="#2e7a68"/>
<circle cx="154.3" cy="662.7" r="2.1" fill="#2e7a68"/>
<circle cx="162.5" cy="664.6" r="2.1" fill="#2e7a68"/>
<circle cx="184.6" cy="662.2" r="2.1" fill="#2e7a68"/>
<circle cx="201.0" cy="658.0" r="2.1" fill="#2e7a68"/>
<rect x="94.60" y="461.80" width="126.70" height="185.00" fill="none" stroke="#ff2a2a" stroke-width="1.3" stroke-dasharray="5.5 2.4"/>
<circle cx="108.8" cy="482.6" r="2.2" fill="#dcd660"/>
<circle cx="101.9" cy="555.9" r="2.2" fill="#dcd660"/>
<circle cx="111.5" cy="564.9" r="2.2" fill="#dcd660"/>
<circle cx="118.6" cy="565.1" r="2.2" fill="#dcd660"/>
<circle cx="106.3" cy="568.6" r="2.2" fill="#dcd660"/>
<circle cx="105.3" cy="574.3" r="2.2" fill="#dcd660"/>
<circle cx="119.0" cy="578.8" r="2.2" fill="#dcd660"/>
<circle cx="114.9" cy="581.9" r="2.2" fill="#dcd660"/>
<circle cx="108.8" cy="583.3" r="2.2" fill="#dcd660"/>
<circle cx="107.4" cy="586.6" r="2.2" fill="#dcd660"/>
<circle cx="118.6" cy="586.6" r="2.2" fill="#dcd660"/>
<circle cx="119.0" cy="590.1" r="2.2" fill="#dcd660"/>
<circle cx="104.7" cy="591.5" r="2.2" fill="#dcd660"/>
<circle cx="112.9" cy="595.6" r="2.2" fill="#dcd660"/>
<circle cx="115.0" cy="595.0" r="2.2" fill="#dcd660"/>
<circle cx="117.6" cy="599.3" r="2.2" fill="#dcd660"/>
<circle cx="101.9" cy="599.7" r="2.2" fill="#dcd660"/>
<circle cx="104.3" cy="602.3" r="2.2" fill="#dcd660"/>
<circle cx="112.5" cy="603.4" r="2.2" fill="#dcd660"/>
<circle cx="114.9" cy="605.0" r="2.2" fill="#dcd660"/>
<circle cx="102.7" cy="605.8" r="2.2" fill="#dcd660"/>
<circle cx="110.8" cy="607.4" r="2.2" fill="#dcd660"/>
<circle cx="117.6" cy="607.4" r="2.2" fill="#dcd660"/>
<circle cx="113.5" cy="610.5" r="2.2" fill="#dcd660"/>
<circle cx="102.7" cy="611.5" r="2.2" fill="#dcd660"/>
<circle cx="107.4" cy="612.6" r="2.2" fill="#dcd660"/>
<circle cx="115.5" cy="613.2" r="2.2" fill="#dcd660"/>
<circle cx="102.3" cy="617.7" r="2.2" fill="#dcd660"/>
<circle cx="108.0" cy="617.3" r="2.2" fill="#dcd660"/>
<circle cx="112.5" cy="618.1" r="2.2" fill="#dcd660"/>
<circle cx="117.6" cy="617.7" r="2.2" fill="#dcd660"/>
<circle cx="124.3" cy="616.6" r="2.2" fill="#dcd660"/>
<circle cx="133.3" cy="618.1" r="2.2" fill="#dcd660"/>
<circle cx="177.5" cy="618.1" r="2.2" fill="#dcd660"/>
<circle cx="100.6" cy="621.8" r="2.2" fill="#dcd660"/>
<circle cx="105.0" cy="620.5" r="2.2" fill="#dcd660"/>
<circle cx="109.0" cy="622.0" r="2.2" fill="#dcd660"/>
<circle cx="125.8" cy="619.7" r="2.2" fill="#dcd660"/>
<circle cx="127.8" cy="624.8" r="2.2" fill="#dcd660"/>
<circle cx="138.0" cy="624.2" r="2.2" fill="#dcd660"/>
<circle cx="140.1" cy="625.4" r="2.2" fill="#dcd660"/>
<circle cx="103.3" cy="625.8" r="2.2" fill="#dcd660"/>
<circle cx="110.0" cy="625.0" r="2.2" fill="#dcd660"/>
<circle cx="116.6" cy="627.5" r="2.2" fill="#dcd660"/>
<circle cx="125.8" cy="627.9" r="2.2" fill="#dcd660"/>
<circle cx="149.3" cy="628.3" r="2.2" fill="#dcd660"/>
<circle cx="161.1" cy="628.7" r="2.2" fill="#dcd660"/>
<circle cx="101.2" cy="629.9" r="2.2" fill="#dcd660"/>
<circle cx="106.0" cy="630.5" r="2.2" fill="#dcd660"/>
<circle cx="112.5" cy="631.0" r="2.2" fill="#dcd660"/>
<circle cx="118.0" cy="630.0" r="2.2" fill="#dcd660"/>
<circle cx="127.8" cy="631.0" r="2.2" fill="#dcd660"/>
<circle cx="129.9" cy="632.0" r="2.2" fill="#dcd660"/>
<circle cx="102.7" cy="634.4" r="2.2" fill="#dcd660"/>
<circle cx="108.0" cy="634.0" r="2.2" fill="#dcd660"/>
<circle cx="114.5" cy="633.6" r="2.2" fill="#dcd660"/>
<circle cx="134.6" cy="634.6" r="2.2" fill="#dcd660"/>
<circle cx="155.0" cy="633.6" r="2.2" fill="#dcd660"/>
<circle cx="104.3" cy="636.1" r="2.2" fill="#dcd660"/>
<circle cx="113.0" cy="636.5" r="2.2" fill="#dcd660"/>
<circle cx="106.0" cy="615.0" r="2.2" fill="#dcd660"/>
<circle cx="111.0" cy="614.0" r="2.2" fill="#dcd660"/>
<circle cx="104.0" cy="608.0" r="2.2" fill="#dcd660"/>
<circle cx="109.0" cy="600.0" r="2.2" fill="#dcd660"/>
<circle cx="116.0" cy="621.0" r="2.2" fill="#dcd660"/>
<circle cx="121.0" cy="624.0" r="2.2" fill="#dcd660"/>
<circle cx="109.8" cy="623.0" r="2.2" fill="#dcd660"/>
<circle cx="113.2" cy="603.4" r="2.2" fill="#dcd660"/>
<circle cx="101.7" cy="612.2" r="2.2" fill="#dcd660"/>
<circle cx="106.3" cy="628.8" r="2.2" fill="#dcd660"/>
<circle cx="113.6" cy="620.9" r="2.2" fill="#dcd660"/>
<circle cx="111.3" cy="623.1" r="2.2" fill="#dcd660"/>
<circle cx="104.0" cy="614.7" r="2.2" fill="#dcd660"/>
<circle cx="104.3" cy="632.4" r="2.2" fill="#dcd660"/>
<circle cx="102.5" cy="629.1" r="2.2" fill="#dcd660"/>
<circle cx="102.8" cy="624.1" r="2.2" fill="#dcd660"/>
<circle cx="107.4" cy="613.4" r="2.2" fill="#dcd660"/>
<circle cx="116.2" cy="598.7" r="2.2" fill="#dcd660"/>
<circle cx="102.6" cy="632.8" r="2.2" fill="#dcd660"/>
<circle cx="110.4" cy="601.5" r="2.2" fill="#dcd660"/>
<circle cx="118.8" cy="634.0" r="2.2" fill="#dcd660"/>
<circle cx="103.5" cy="614.1" r="2.2" fill="#dcd660"/>
<circle cx="103.9" cy="609.9" r="2.2" fill="#dcd660"/>
<circle cx="112.4" cy="604.2" r="2.2" fill="#dcd660"/>
<circle cx="113.7" cy="600.0" r="2.2" fill="#dcd660"/>
<circle cx="104.5" cy="629.0" r="2.2" fill="#dcd660"/>
<circle cx="108.5" cy="613.9" r="2.2" fill="#dcd660"/>
<circle cx="111.9" cy="616.1" r="2.2" fill="#dcd660"/>
<circle cx="108.2" cy="599.2" r="2.2" fill="#dcd660"/>
<circle cx="114.2" cy="634.8" r="2.2" fill="#dcd660"/>
<circle cx="118.6" cy="623.2" r="2.2" fill="#dcd660"/>
<circle cx="107.7" cy="611.8" r="2.2" fill="#dcd660"/>
<circle cx="113.6" cy="623.6" r="2.2" fill="#dcd660"/>
<circle cx="103.5" cy="606.9" r="2.2" fill="#dcd660"/>
<circle cx="128.3" cy="517.0" r="2.2" fill="#f5261c"/>
<circle cx="130.9" cy="548.6" r="2.2" fill="#f5261c"/>
<circle cx="154.0" cy="555.9" r="2.2" fill="#f5261c"/>
<circle cx="150.9" cy="562.1" r="2.2" fill="#f5261c"/>
<circle cx="130.3" cy="570.7" r="2.2" fill="#f5261c"/>
<circle cx="174.6" cy="576.0" r="2.2" fill="#f5261c"/>
<circle cx="125.2" cy="588.0" r="2.2" fill="#f5261c"/>
<circle cx="126.8" cy="587.4" r="2.2" fill="#f5261c"/>
<circle cx="129.4" cy="586.2" r="2.2" fill="#f5261c"/>
<circle cx="149.9" cy="585.8" r="2.2" fill="#f5261c"/>
<circle cx="140.5" cy="598.7" r="2.2" fill="#f5261c"/>
<circle cx="131.5" cy="608.5" r="2.2" fill="#f5261c"/>
<text transform="translate(343 13.1) scale(1 1.07)" font-size="15" text-anchor="start" fill="#111" stroke="#111" stroke-width="0.15" >d</text>
<line x1="427.4" y1="12.6" x2="427.4" y2="139.5" stroke="#333" stroke-width="1.2" />
<line x1="426.8" y1="139.5" x2="519" y2="139.5" stroke="#333" stroke-width="1.2" />
<line x1="424.5" y1="133.2" x2="427.4" y2="133.2" stroke="#333" stroke-width="1" />
<line x1="424.5" y1="105.19999999999999" x2="427.4" y2="105.19999999999999" stroke="#333" stroke-width="1" />
<line x1="424.5" y1="77.19999999999999" x2="427.4" y2="77.19999999999999" stroke="#333" stroke-width="1" />
<line x1="424.5" y1="49.19999999999999" x2="427.4" y2="49.19999999999999" stroke="#333" stroke-width="1" />
<line x1="424.5" y1="21.19999999999999" x2="427.4" y2="21.19999999999999" stroke="#333" stroke-width="1" />
<text transform="translate(423.2 133.8) rotate(-90) scale(1 1.07)" font-size="15.3" text-anchor="middle" fill="#111" stroke="#111" stroke-width="0.15">0</text>
<text transform="translate(422.2 77.9) rotate(-90) scale(1 1.07)" font-size="15.3" text-anchor="middle" fill="#111" stroke="#111" stroke-width="0.15">200</text>
<text transform="translate(418.5 24.1) rotate(-90) scale(1 1.07)" font-size="15.3" text-anchor="middle" fill="#111" stroke="#111" stroke-width="0.15">400</text>
<line x1="448.3" y1="139.5" x2="448.3" y2="141.8" stroke="#333" stroke-width="1" />
<line x1="494.5" y1="139.5" x2="494.5" y2="141.8" stroke="#333" stroke-width="1" />
<rect x="435.40" y="31.00" width="25.70" height="31.60" fill="#68a057" stroke="none" stroke-width="1" />
<rect x="435.40" y="62.60" width="25.70" height="34.80" fill="#e3463a" stroke="none" stroke-width="1" />
<rect x="435.40" y="97.40" width="25.70" height="38.20" fill="#6147fb" stroke="none" stroke-width="1" />
<line x1="435.4" y1="62.6" x2="461.1" y2="62.6" stroke="#fff" stroke-width="0.7" />
<line x1="435.4" y1="97.4" x2="461.1" y2="97.4" stroke="#fff" stroke-width="0.7" />
<rect x="481.90" y="18.00" width="25.30" height="48.10" fill="#68a057" stroke="none" stroke-width="1" />
<rect x="481.90" y="66.10" width="25.30" height="32.40" fill="#e3463a" stroke="none" stroke-width="1" />
<rect x="481.90" y="98.50" width="25.30" height="37.10" fill="#6147fb" stroke="none" stroke-width="1" />
<line x1="481.9" y1="66.1" x2="507.2" y2="66.1" stroke="#fff" stroke-width="0.7" />
<line x1="481.9" y1="98.5" x2="507.2" y2="98.5" stroke="#fff" stroke-width="0.7" />
<text transform="translate(396.4 163.1) scale(1 1.07)" font-size="15.5" text-anchor="start" fill="#111" stroke="#111" stroke-width="0.15" >H3K4me3</text>
<text transform="translate(483.2 163.1) scale(1 1.07)" font-size="15.5" text-anchor="start" fill="#111" stroke="#111" stroke-width="0.15" >H3K27ac</text>
<text transform="translate(384.2 74.2) rotate(-90) scale(1 1.07)" font-size="14.7" text-anchor="middle" fill="#111" stroke="#111" stroke-width="0.15">No. of inter-allelic</text>
<text transform="translate(399.5 74.4) rotate(-90) scale(1 1.07)" font-size="15" text-anchor="middle" fill="#111" stroke="#111" stroke-width="0.15">interactions</text>
<rect x="523.20" y="41.10" width="17.70" height="16.80" fill="#5b4bfb" stroke="none" stroke-width="1" />
<rect x="523.20" y="72.20" width="17.70" height="16.50" fill="#e9413a" stroke="none" stroke-width="1" />
<rect x="523.60" y="104.90" width="17.40" height="16.80" fill="#66a056" stroke="none" stroke-width="1" />
<text transform="translate(553.6 53.7) scale(1 1.07)" font-size="15.4" text-anchor="start" fill="#111" stroke="#111" stroke-width="0.15" >syn-syn</text>
<text transform="translate(549.2 85.4) scale(1 1.07)" font-size="15.3" text-anchor="start" fill="#111" stroke="#111" stroke-width="0.15" >nonsyn-nonsyn</text>
<text transform="translate(553.6 119.1) scale(1 1.07)" font-size="15.4" text-anchor="start" fill="#111" stroke="#111" stroke-width="0.15" >others</text>
<text transform="translate(343 195.7) scale(1 1.07)" font-size="15" text-anchor="start" fill="#111" stroke="#111" stroke-width="0.15" >e</text>
<line x1="394.6" y1="217.4" x2="394.6" y2="326.6" stroke="#111" stroke-width="2" />
<line x1="393.6" y1="325.8" x2="670.7" y2="325.8" stroke="#111" stroke-width="2" />
<line x1="391.6" y1="298.5" x2="394.6" y2="298.5" stroke="#111" stroke-width="1" />
<text transform="translate(389.5 298.5) rotate(-90) scale(1 1.07)" font-size="15" text-anchor="middle" fill="#111" stroke="#111" stroke-width="0.15">0</text>
<line x1="391.6" y1="266.1" x2="394.6" y2="266.1" stroke="#111" stroke-width="1" />
<text transform="translate(389.5 266.1) rotate(-90) scale(1 1.07)" font-size="15" text-anchor="middle" fill="#111" stroke="#111" stroke-width="0.15">5</text>
<line x1="391.6" y1="233.7" x2="394.6" y2="233.7" stroke="#111" stroke-width="1" />
<text transform="translate(389.5 233.7) rotate(-90) scale(1 1.07)" font-size="15" text-anchor="middle" fill="#111" stroke="#111" stroke-width="0.15">10</text>
<text transform="translate(363 270.4) rotate(-90) scale(1 1.07)" font-size="15" text-anchor="middle" fill="#111" stroke="#111" stroke-width="0.15">log<tspan font-size="10.5" dy="3.5">2</tspan><tspan dy="-3.5">(FPKM+0.1)</tspan></text>
<line x1="419.6" y1="245.7" x2="419.6" y2="270.7" stroke="#333" stroke-width="1" />
<line x1="419.6" y1="288.9" x2="419.6" y2="313.2" stroke="#333" stroke-width="1" />
<rect x="404.50" y="270.70" width="30.20" height="18.20" fill="#f64a4f" stroke="#3a3a3a" stroke-width="0.9" />
<line x1="404.5" y1="279.4" x2="434.70000000000005" y2="279.4" stroke="#6e1c1c" stroke-width="1.9" />
<circle cx="419.6" cy="220.1" r="1.35" fill="#111"/>
<circle cx="419.6" cy="226.9" r="1.35" fill="#111"/>
<circle cx="419.6" cy="229.2" r="1.35" fill="#111"/>
<circle cx="419.6" cy="240.5" r="1.35" fill="#111"/>
<circle cx="419.6" cy="320.3" r="1.35" fill="#111"/>
<line x1="462.0" y1="246" x2="462.0" y2="269.4" stroke="#333" stroke-width="1" />
<line x1="462.0" y1="285.6" x2="462.0" y2="303.9" stroke="#333" stroke-width="1" />
<rect x="446.90" y="269.40" width="30.20" height="16.20" fill="#e2dc9c" stroke="#3a3a3a" stroke-width="0.9" />
<line x1="446.9" y1="277.4" x2="477.1" y2="277.4" stroke="#222" stroke-width="1.9" />
<circle cx="462.0" cy="229.2" r="1.35" fill="#111"/>
<circle cx="462.0" cy="231.4" r="1.35" fill="#111"/>
<circle cx="462.0" cy="237.8" r="1.35" fill="#111"/>
<circle cx="462.0" cy="239.3" r="1.35" fill="#111"/>
<circle cx="462.0" cy="243.3" r="1.35" fill="#111"/>
<line x1="504.5" y1="246" x2="504.5" y2="269.2" stroke="#333" stroke-width="1" />
<line x1="504.5" y1="285.6" x2="504.5" y2="305.7" stroke="#333" stroke-width="1" />
<rect x="489.40" y="269.20" width="30.20" height="16.40" fill="#4db59a" stroke="#3a3a3a" stroke-width="0.9" />
<line x1="489.4" y1="277.4" x2="519.6" y2="277.4" stroke="#1a3a30" stroke-width="1.9" />
<circle cx="504.5" cy="225.0" r="1.35" fill="#111"/>
<circle cx="504.5" cy="228.7" r="1.35" fill="#111"/>
<circle cx="504.5" cy="242.4" r="1.35" fill="#111"/>
<circle cx="504.5" cy="311.7" r="1.35" fill="#111"/>
<circle cx="504.5" cy="315.9" r="1.35" fill="#111"/>
<line x1="560.1" y1="246.5" x2="560.1" y2="269.6" stroke="#333" stroke-width="1" />
<line x1="560.1" y1="285.4" x2="560.1" y2="303.2" stroke="#333" stroke-width="1" />
<rect x="545.00" y="269.60" width="30.20" height="15.80" fill="#e2dc9c" stroke="#3a3a3a" stroke-width="0.9" />
<line x1="545.0" y1="277.5" x2="575.2" y2="277.5" stroke="#222" stroke-width="1.9" />
<circle cx="560.1" cy="237.3" r="1.35" fill="#111"/>
<circle cx="560.1" cy="239.4" r="1.35" fill="#111"/>
<circle cx="560.1" cy="310.3" r="1.35" fill="#111"/>
<circle cx="560.1" cy="316.9" r="1.35" fill="#111"/>
<line x1="602.4" y1="245.2" x2="602.4" y2="269.6" stroke="#333" stroke-width="1" />
<line x1="602.4" y1="286.4" x2="602.4" y2="310.8" stroke="#333" stroke-width="1" />
<rect x="587.30" y="269.60" width="30.20" height="16.80" fill="#4db59a" stroke="#3a3a3a" stroke-width="0.9" />
<line x1="587.3" y1="278.3" x2="617.5" y2="278.3" stroke="#1a3a30" stroke-width="1.9" />
<circle cx="602.4" cy="235.4" r="1.35" fill="#111"/>
<circle cx="602.4" cy="242.8" r="1.35" fill="#111"/>
<circle cx="602.4" cy="243.8" r="1.35" fill="#111"/>
<circle cx="602.4" cy="318.2" r="1.35" fill="#111"/>
<circle cx="602.4" cy="320.3" r="1.35" fill="#111"/>
<line x1="645.6" y1="249.5" x2="645.6" y2="271.2" stroke="#333" stroke-width="1" />
<line x1="645.6" y1="286.8" x2="645.6" y2="310.2" stroke="#333" stroke-width="1" />
<rect x="630.50" y="271.20" width="30.20" height="15.60" fill="#e0a04c" stroke="#3a3a3a" stroke-width="0.9" />
<line x1="630.5" y1="278.3" x2="660.7" y2="278.3" stroke="#2a1a0a" stroke-width="1.9" />
<circle cx="645.6" cy="319.8" r="1.35" fill="#111"/>
<text transform="translate(419.6 345.5) scale(1 1.07)" font-size="15.2" text-anchor="middle" fill="#111" stroke="#111" stroke-width="0.15" >B73</text>
<text transform="translate(462 345.5) scale(1 1.07)" font-size="15.2" text-anchor="middle" fill="#111" stroke="#111" stroke-width="0.15" >BM</text>
<text transform="translate(504.5 345.5) scale(1 1.07)" font-size="15.2" text-anchor="middle" fill="#111" stroke="#111" stroke-width="0.15" >MB</text>
<text transform="translate(560.1 345.5) scale(1 1.07)" font-size="15.2" text-anchor="middle" fill="#111" stroke="#111" stroke-width="0.15" >BM</text>
<text transform="translate(602.4 345.5) scale(1 1.07)" font-size="15.2" text-anchor="middle" fill="#111" stroke="#111" stroke-width="0.15" >MB</text>
<text transform="translate(645.6 345.5) scale(1 1.07)" font-size="15.2" text-anchor="middle" fill="#111" stroke="#111" stroke-width="0.15" >Mo17</text>
<line x1="423.7" y1="194.9" x2="503.7" y2="194.9" stroke="#111" stroke-width="1.9" />
<text transform="translate(465.7 194) scale(1 1.07)" font-size="15" text-anchor="middle" fill="#111" stroke="#111" stroke-width="0.15" >**</text>
<line x1="423.7" y1="215.5" x2="462.7" y2="215.5" stroke="#111" stroke-width="1.9" />
<text transform="translate(442.7 215) scale(1 1.07)" font-size="15" text-anchor="middle" fill="#111" stroke="#111" stroke-width="0.15" >**</text>
<line x1="564.1" y1="194.9" x2="647.4" y2="194.9" stroke="#111" stroke-width="1.9" />
<text transform="translate(604.5 194) scale(1 1.07)" font-size="15" text-anchor="middle" fill="#111" stroke="#111" stroke-width="0.15" >**</text>
<line x1="608.2" y1="217.4" x2="649.5" y2="217.4" stroke="#111" stroke-width="1.9" />
<text transform="translate(629 213) scale(1 1.07)" font-size="15" text-anchor="middle" fill="#111" stroke="#111" stroke-width="0.15" >ns</text>
<text transform="translate(344 391.5) scale(1 1.07)" font-size="15" text-anchor="start" fill="#111" stroke="#111" stroke-width="0.08" >f</text>
<text transform="translate(477 386.3) scale(1 1.07)" font-size="18" text-anchor="start" fill="#111" stroke="#111" stroke-width="0.08" >Zm00001d019180</text>
<text transform="translate(639 376.5) scale(1 1.07)" font-size="17.3" text-anchor="start" fill="#111" stroke="#111" stroke-width="0.08" >2 Kb</text>
<line x1="638.6" y1="387" x2="670.7" y2="387" stroke="#111" stroke-width="1.5" />
<line x1="495" y1="395.7" x2="627" y2="395.7" stroke="#f0434c" stroke-width="1" />
<rect x="490.00" y="389.80" width="5.20" height="10.80" fill="#f0434c" stroke="none" stroke-width="1" />
<line x1="594.9" y1="389.8" x2="594.9" y2="400.6" stroke="#f0434c" stroke-width="1.1" />
<line x1="602.6" y1="389.8" x2="602.6" y2="400.6" stroke="#f0434c" stroke-width="1.1" />
<line x1="624.4" y1="391" x2="624.4" y2="400" stroke="#f0434c" stroke-width="1" />
<rect x="625.50" y="391.70" width="3.00" height="7.00" fill="#f0434c" stroke="none" stroke-width="1" />
<text transform="translate(380.6 409.4) scale(1 1.07)" font-size="18.2" text-anchor="start" fill="#111" stroke="#111" stroke-width="0.08" >BM-B</text>
<rect x="430.30" y="403.40" width="242.20" height="4.60" fill="#f04a55" stroke="#333" stroke-width="0.9" />
<text transform="translate(379.6 458.5) scale(1 1.07)" font-size="18.2" text-anchor="start" fill="#111" stroke="#111" stroke-width="0.08" >BM-M</text>
<rect x="430.30" y="452.80" width="242.20" height="4.50" fill="#e0a04a" stroke="#333" stroke-width="0.9" />
<text transform="translate(380.7 496.3) scale(1 1.07)" font-size="18.2" text-anchor="start" fill="#111" stroke="#111" stroke-width="0.08" >MB-B</text>
<rect x="430.30" y="486.40" width="242.20" height="4.10" fill="#f04a55" stroke="#333" stroke-width="0.9" />
<text transform="translate(379.6 544.9) scale(1 1.07)" font-size="18.2" text-anchor="start" fill="#111" stroke="#111" stroke-width="0.08" >MB-M</text>
<rect x="430.30" y="536.60" width="242.20" height="3.90" fill="#e0a04a" stroke="#333" stroke-width="0.9" />
<text transform="translate(347.4 438.8) scale(1 1.07)" font-size="17.9" text-anchor="start" fill="#111" stroke="#111" stroke-width="0.08" >BM</text>
<text transform="translate(349 522.5) scale(1 1.07)" font-size="17.9" text-anchor="start" fill="#111" stroke="#111" stroke-width="0.08" >MB</text>
<text transform="translate(443.3 428.8) scale(1 1.07)" font-size="17.9" text-anchor="start" fill="#111" stroke="#111" stroke-width="0.08" >HiChIP</text>
<text transform="translate(435.9 445.5) scale(1 1.07)" font-size="17.9" text-anchor="start" fill="#111" stroke="#111" stroke-width="0.08" >(2 reads)</text>
<text transform="translate(440.6 511.3) scale(1 1.07)" font-size="17.9" text-anchor="start" fill="#111" stroke="#111" stroke-width="0.08" >HiChIP</text>
<text transform="translate(428.5 528.5) scale(1 1.07)" font-size="17.9" text-anchor="start" fill="#111" stroke="#111" stroke-width="0.08" >(10 reads)</text>
<text transform="translate(599.1 431) scale(1 1.07)" font-size="17.9" text-anchor="start" fill="#111" stroke="#111" stroke-width="0.08" >4C-seq</text>
<text transform="translate(578 447.8) scale(1 1.07)" font-size="17.9" text-anchor="start" fill="#111" stroke="#111" stroke-width="0.08" >(1,304 reads)</text>
<text transform="translate(596.7 516.4) scale(1 1.07)" font-size="17.9" text-anchor="start" fill="#111" stroke="#111" stroke-width="0.08" >4C-seq</text>
<text transform="translate(575.8 532) scale(1 1.07)" font-size="17.9" text-anchor="start" fill="#111" stroke="#111" stroke-width="0.08" >(2,223 reads)</text>
<line x1="510.2" y1="423.4" x2="520.3" y2="423.4" stroke="#111" stroke-width="1.4" />
<path d="M513.7,420.0 L508.2,423.4 L513.7,426.79999999999995 L512.2,423.4 Z" fill="#111" stroke="#111" stroke-width="0.6" stroke-linejoin="round"/>
<line x1="579.7" y1="426.4" x2="591.7" y2="426.4" stroke="#111" stroke-width="1.4" />
<path d="M588.2,423.0 L593.7,426.4 L588.2,429.79999999999995 L589.7,426.4 Z" fill="#111" stroke="#111" stroke-width="0.6" stroke-linejoin="round"/>
<line x1="502.8" y1="506.8" x2="514.2" y2="506.8" stroke="#111" stroke-width="1.4" />
<path d="M506.3,503.40000000000003 L500.8,506.8 L506.3,510.2 L504.8,506.8 Z" fill="#111" stroke="#111" stroke-width="0.6" stroke-linejoin="round"/>
<line x1="577.3" y1="513.4" x2="590.2" y2="513.4" stroke="#111" stroke-width="1.4" />
<path d="M586.7,510.0 L592.2,513.4 L586.7,516.8 L588.2,513.4 Z" fill="#111" stroke="#111" stroke-width="0.6" stroke-linejoin="round"/>
<path d="M543.8,408.2 C543.8,446.56 512.3,414.44 512.3,452.8" fill="none" stroke="#3b6fd4" stroke-width="2.3"/>
<path d="M549.80,408.20 L549.76,410.72 L549.62,413.10 L549.40,415.33 L549.09,417.43 L548.69,419.41 L548.19,421.28 L547.60,423.04 L546.91,424.69 L546.11,426.24 L545.21,427.67 L544.22,428.99 L543.14,430.18 L541.99,431.24 L540.80,432.17 L539.57,432.97 L538.33,433.65 L537.09,434.22 L535.87,434.70 L534.67,435.10 L533.50,435.43 L532.37,435.72 L531.28,435.97 L530.22,436.18 L529.22,436.39 L528.26,436.58 L527.35,436.77 L526.50,436.96 L525.70,437.16 L524.97,437.37 L524.30,437.59 L523.70,437.83 L523.16,438.07 L522.68,438.34 L522.25,438.62 L521.85,438.92 L521.49,439.27 L521.13,439.66 L520.78,440.13 L520.42,440.69 L520.07,441.38 L519.73,442.20 L519.40,443.17 L519.10,444.31 L518.83,445.63 L518.61,447.13 L518.44,448.82 L518.34,450.71 L518.30,452.80" fill="none" stroke="#3b6fd4" stroke-width="2.3" stroke-linejoin="round"/>
<path d="M572.1,408.2 C572.1,446.56 541.2,414.44 541.2,452.8" fill="none" stroke="#3ebf8f" stroke-width="2.3"/>
<path d="M578.10,408.20 L578.06,410.72 L577.93,413.09 L577.71,415.32 L577.41,417.41 L577.01,419.39 L576.53,421.25 L575.95,423.00 L575.27,424.65 L574.49,426.19 L573.61,427.63 L572.64,428.94 L571.58,430.14 L570.45,431.20 L569.26,432.14 L568.05,432.94 L566.82,433.63 L565.60,434.20 L564.39,434.69 L563.21,435.09 L562.06,435.43 L560.94,435.71 L559.86,435.96 L558.83,436.18 L557.84,436.38 L556.90,436.57 L556.01,436.76 L555.18,436.95 L554.40,437.15 L553.69,437.36 L553.05,437.58 L552.47,437.81 L551.95,438.05 L551.48,438.31 L551.07,438.59 L550.69,438.89 L550.33,439.22 L549.98,439.62 L549.64,440.08 L549.29,440.65 L548.95,441.34 L548.61,442.16 L548.28,443.14 L547.98,444.29 L547.72,445.61 L547.50,447.12 L547.34,448.81 L547.24,450.71 L547.20,452.80" fill="none" stroke="#3ebf8f" stroke-width="2.3" stroke-linejoin="round"/>
<path d="M543.8,490.7 C543.8,530.17 512.3,497.13 512.3,536.6" fill="none" stroke="#3b6fd4" stroke-width="2.3"/>
<path d="M549.80,490.70 L549.76,493.29 L549.62,495.71 L549.40,498.00 L549.10,500.14 L548.70,502.17 L548.21,504.07 L547.62,505.86 L546.93,507.54 L546.15,509.11 L545.26,510.57 L544.27,511.92 L543.20,513.13 L542.06,514.22 L540.86,515.18 L539.63,516.00 L538.39,516.70 L537.15,517.29 L535.92,517.79 L534.72,518.20 L533.55,518.55 L532.41,518.84 L531.31,519.10 L530.26,519.32 L529.25,519.53 L528.29,519.73 L527.38,519.92 L526.53,520.12 L525.74,520.32 L525.02,520.54 L524.35,520.76 L523.76,521.00 L523.22,521.26 L522.75,521.53 L522.32,521.81 L521.92,522.13 L521.55,522.49 L521.18,522.90 L520.82,523.39 L520.46,523.99 L520.10,524.71 L519.75,525.57 L519.41,526.59 L519.11,527.79 L518.84,529.16 L518.61,530.72 L518.44,532.48 L518.34,534.44 L518.30,536.60" fill="none" stroke="#3b6fd4" stroke-width="2.3" stroke-linejoin="round"/>
<path d="M572.1,490.7 C572.1,530.17 541.2,497.13 541.2,536.6" fill="none" stroke="#3ebf8f" stroke-width="2.3"/>
<path d="M578.10,490.70 L578.06,493.28 L577.93,495.71 L577.71,497.98 L577.41,500.13 L577.02,502.14 L576.54,504.04 L575.97,505.82 L575.29,507.50 L574.52,509.07 L573.65,510.53 L572.69,511.87 L571.64,513.09 L570.51,514.18 L569.33,515.14 L568.12,515.97 L566.89,516.68 L565.66,517.28 L564.45,517.77 L563.26,518.19 L562.10,518.54 L560.98,518.84 L559.90,519.09 L558.86,519.32 L557.87,519.52 L556.93,519.72 L556.04,519.91 L555.22,520.11 L554.45,520.31 L553.74,520.53 L553.10,520.75 L552.52,520.99 L552.01,521.24 L551.55,521.50 L551.14,521.78 L550.75,522.09 L550.39,522.44 L550.04,522.86 L549.68,523.35 L549.33,523.95 L548.97,524.67 L548.63,525.54 L548.30,526.56 L547.99,527.76 L547.73,529.14 L547.51,530.71 L547.34,532.47 L547.24,534.43 L547.20,536.60" fill="none" stroke="#3ebf8f" stroke-width="2.3" stroke-linejoin="round"/>
<line x1="498.7" y1="547.2" x2="584" y2="547.2" stroke="#e3a04e" stroke-width="1" />
<rect x="487.50" y="545.30" width="6.00" height="4.00" fill="#e3a04e" stroke="none" stroke-width="1" />
<rect x="493.50" y="543.90" width="5.20" height="7.00" fill="#e3a04e" stroke="none" stroke-width="1" />
<line x1="544.7" y1="543.9" x2="544.7" y2="550.9" stroke="#e3a04e" stroke-width="1" />
<line x1="556.6" y1="543.9" x2="556.6" y2="550.9" stroke="#e3a04e" stroke-width="2" />
<rect x="584.00" y="544.30" width="7.00" height="6.60" fill="#e3a04e" stroke="none" stroke-width="1" />
<text transform="translate(478.5 568.4) scale(1 1.07)" font-size="17.9" text-anchor="start" fill="#111" stroke="#111" stroke-width="0.08" >Zm00014a006917</text>
<line x1="391.6" y1="695.6" x2="510.3" y2="695.6" stroke="#ebebeb" stroke-width="1.1" />
<line x1="391.6" y1="684.09" x2="510.3" y2="684.09" stroke="#ebebeb" stroke-width="1.1" />
<line x1="391.6" y1="672.58" x2="510.3" y2="672.58" stroke="#ebebeb" stroke-width="1.1" />
<line x1="391.6" y1="661.07" x2="510.3" y2="661.07" stroke="#ebebeb" stroke-width="1.1" />
<line x1="391.6" y1="649.5600000000001" x2="510.3" y2="649.5600000000001" stroke="#ebebeb" stroke-width="1.1" />
<line x1="391.6" y1="638.0500000000001" x2="510.3" y2="638.0500000000001" stroke="#ebebeb" stroke-width="1.1" />
<line x1="391.6" y1="626.54" x2="510.3" y2="626.54" stroke="#ebebeb" stroke-width="1.1" />
<line x1="391.6" y1="615.03" x2="510.3" y2="615.03" stroke="#ebebeb" stroke-width="1.1" />
<line x1="391.6" y1="603.52" x2="510.3" y2="603.52" stroke="#ebebeb" stroke-width="1.1" />
<line x1="411.6" y1="600.7" x2="411.6" y2="696.2" stroke="#ebebeb" stroke-width="1.1" />
<line x1="446.1" y1="600.7" x2="446.1" y2="696.2" stroke="#ebebeb" stroke-width="1.1" />
<line x1="480.8" y1="600.7" x2="480.8" y2="696.2" stroke="#ebebeb" stroke-width="1.1" />
<rect x="391.60" y="600.70" width="118.70" height="95.50" fill="none" stroke="#222" stroke-width="1.4" />
<line x1="388.1" y1="695.6" x2="391.6" y2="695.6" stroke="#222" stroke-width="1.2" />
<line x1="388.1" y1="672.6" x2="391.6" y2="672.6" stroke="#222" stroke-width="1.2" />
<line x1="388.1" y1="649.6" x2="391.6" y2="649.6" stroke="#222" stroke-width="1.2" />
<line x1="388.1" y1="626.6" x2="391.6" y2="626.6" stroke="#222" stroke-width="1.2" />
<line x1="388.1" y1="603.5" x2="391.6" y2="603.5" stroke="#222" stroke-width="1.2" />
<line x1="411.6" y1="696.2" x2="411.6" y2="699.7" stroke="#222" stroke-width="1.2" />
<line x1="446.1" y1="696.2" x2="446.1" y2="699.7" stroke="#222" stroke-width="1.2" />
<line x1="480.8" y1="696.2" x2="480.8" y2="699.7" stroke="#222" stroke-width="1.2" />
<text transform="translate(382.8 606.3) rotate(-90) scale(1 1.07)" font-size="17" text-anchor="middle" fill="#111" stroke="#111" stroke-width="0.15">100</text>
<text transform="translate(382.8 650.1) rotate(-90) scale(1 1.07)" font-size="17" text-anchor="middle" fill="#111" stroke="#111" stroke-width="0.15">60</text>
<text transform="translate(382.8 695.6) rotate(-90) scale(1 1.07)" font-size="17" text-anchor="middle" fill="#111" stroke="#111" stroke-width="0.15">20</text>
<text transform="translate(409 716.7) scale(1 1.07)" font-size="17" text-anchor="middle" fill="#111" stroke="#111" stroke-width="0.15" >B73</text>
<text transform="translate(446.1 716.7) scale(1 1.07)" font-size="17" text-anchor="middle" fill="#111" stroke="#111" stroke-width="0.15" >BM</text>
<text transform="translate(480.8 716.7) scale(1 1.07)" font-size="17" text-anchor="middle" fill="#111" stroke="#111" stroke-width="0.15" >MB</text>
<text transform="translate(344.2 595.7) scale(1 1.07)" font-size="15" text-anchor="start" fill="#111" stroke="#111" stroke-width="0.15" >g</text>
<text transform="translate(362.2 647.4) rotate(-90) scale(1 1.07)" font-size="17.5" text-anchor="middle" fill="#111" stroke="#111" stroke-width="0.15">FPKM</text>
<rect x="402.10" y="635.80" width="19.30" height="3.80" fill="#111" stroke="none" stroke-width="1" />
<circle cx="411.8" cy="637.2" r="4.4" fill="#f5261c"/>
<circle cx="411.8" cy="640.3" r="4.4" fill="#f5261c"/>
<rect x="436.60" y="642.40" width="19.20" height="8.00" fill="#111" stroke="none" stroke-width="1" />
<line x1="439" y1="645.3" x2="454" y2="645.3" stroke="#4a9a20" stroke-width="1.2" />
<circle cx="446.1" cy="639.2" r="4.4" fill="#f5261c"/>
<circle cx="446.1" cy="647.2" r="4.4" fill="#f5261c"/>
<circle cx="446.1" cy="650.6" r="4.4" fill="#f5261c"/>
<rect x="471.00" y="606.40" width="19.00" height="4.20" fill="#111" stroke="none" stroke-width="1" />
<circle cx="480.8" cy="606.5" r="4.4" fill="#f5261c"/>
<circle cx="480.8" cy="610.8" r="4.4" fill="#f5261c"/>
<line x1="556.5" y1="694.6" x2="676.8" y2="694.6" stroke="#ebebeb" stroke-width="1.1" />
<line x1="556.5" y1="682.0500000000001" x2="676.8" y2="682.0500000000001" stroke="#ebebeb" stroke-width="1.1" />
<line x1="556.5" y1="669.5" x2="676.8" y2="669.5" stroke="#ebebeb" stroke-width="1.1" />
<line x1="556.5" y1="656.95" x2="676.8" y2="656.95" stroke="#ebebeb" stroke-width="1.1" />
<line x1="556.5" y1="644.4" x2="676.8" y2="644.4" stroke="#ebebeb" stroke-width="1.1" />
<line x1="556.5" y1="631.85" x2="676.8" y2="631.85" stroke="#ebebeb" stroke-width="1.1" />
<line x1="556.5" y1="619.3" x2="676.8" y2="619.3" stroke="#ebebeb" stroke-width="1.1" />
<line x1="556.5" y1="606.75" x2="676.8" y2="606.75" stroke="#ebebeb" stroke-width="1.1" />
<line x1="587.2" y1="600.3" x2="587.2" y2="696.1" stroke="#ebebeb" stroke-width="1.1" />
<line x1="621.1" y1="600.3" x2="621.1" y2="696.1" stroke="#ebebeb" stroke-width="1.1" />
<line x1="655.6" y1="600.3" x2="655.6" y2="696.1" stroke="#ebebeb" stroke-width="1.1" />
<rect x="556.50" y="600.30" width="120.30" height="95.80" fill="none" stroke="#222" stroke-width="1.4" />
<line x1="553.0" y1="694.9" x2="556.5" y2="694.9" stroke="#222" stroke-width="1.2" />
<line x1="553.0" y1="669.8" x2="556.5" y2="669.8" stroke="#222" stroke-width="1.2" />
<line x1="553.0" y1="644.3" x2="556.5" y2="644.3" stroke="#222" stroke-width="1.2" />
<line x1="553.0" y1="618.7" x2="556.5" y2="618.7" stroke="#222" stroke-width="1.2" />
<line x1="587.2" y1="696.1" x2="587.2" y2="699.6" stroke="#222" stroke-width="1.2" />
<line x1="621.1" y1="696.1" x2="621.1" y2="699.6" stroke="#222" stroke-width="1.2" />
<line x1="655.6" y1="696.1" x2="655.6" y2="699.6" stroke="#222" stroke-width="1.2" />
<text transform="translate(548 645.9) rotate(-90) scale(1 1.07)" font-size="17" text-anchor="middle" fill="#111" stroke="#111" stroke-width="0.15">75</text>
<text transform="translate(548 695.2) rotate(-90) scale(1 1.07)" font-size="17" text-anchor="middle" fill="#111" stroke="#111" stroke-width="0.15">25</text>
<text transform="translate(586.3 716.7) scale(1 1.07)" font-size="17" text-anchor="middle" fill="#111" stroke="#111" stroke-width="0.15" >BM</text>
<text transform="translate(619.4 716.7) scale(1 1.07)" font-size="17" text-anchor="middle" fill="#111" stroke="#111" stroke-width="0.15" >MB</text>
<text transform="translate(659.8 716.7) scale(1 1.07)" font-size="17" text-anchor="middle" fill="#111" stroke="#111" stroke-width="0.15" >Mo17</text>
<text transform="translate(518 600.6) scale(1 1.07)" font-size="15" text-anchor="start" fill="#111" stroke="#111" stroke-width="0.15" >h</text>
<text transform="translate(529.4 647.6) rotate(-90) scale(1 1.07)" font-size="17.5" text-anchor="middle" fill="#111" stroke="#111" stroke-width="0.15">FPKM</text>
<rect x="577.90" y="633.00" width="18.60" height="7.50" fill="#111" stroke="none" stroke-width="1" />
<line x1="580" y1="635.4" x2="594" y2="635.4" stroke="#4a9a20" stroke-width="1.2" />
<circle cx="587.3" cy="630.2" r="4.4" fill="#f5261c"/>
<circle cx="587.3" cy="637.7" r="4.4" fill="#f5261c"/>
<circle cx="587.3" cy="642.0" r="4.4" fill="#f5261c"/>
<rect x="612.60" y="604.10" width="18.10" height="2.80" fill="#111" stroke="none" stroke-width="1" />
<circle cx="621.4" cy="605.4" r="4.4" fill="#f5261c"/>
<rect x="646.80" y="690.50" width="18.40" height="3.00" fill="#111" stroke="none" stroke-width="1" />
<circle cx="655.8" cy="690.8" r="4.4" fill="#f5261c"/>
</svg></body></html>
